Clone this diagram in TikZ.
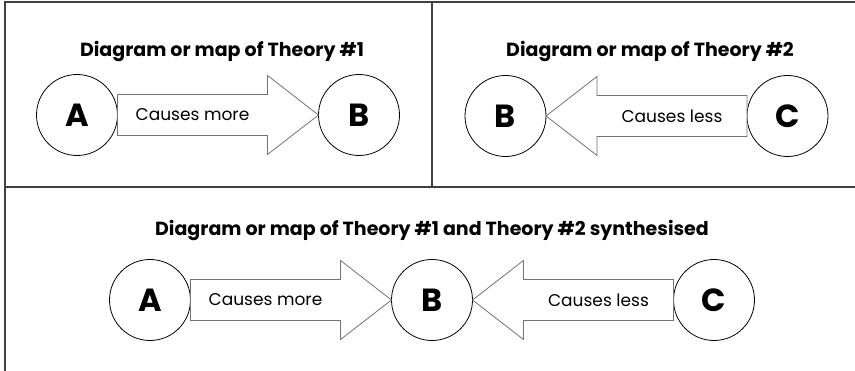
\documentclass[tikz,border=0pt]{standalone}
\usepackage{fontspec}
\setmainfont{Poppins}
\usetikzlibrary{calc,positioning}

\begin{document}
\begin{tikzpicture}[
  x=1pt, y=1pt,
  node distance=201pt,
  circ/.style={draw, circle, minimum size=81pt, inner sep=0pt, outer sep=0pt, line width=0.8pt, font=\fontsize{32}{38}\selectfont\bfseries},
  ttl/.style={anchor=base, font=\fontsize{19}{23}\selectfont\bfseries},
  lbl/.style={font=\fontsize{17}{21}\selectfont},
  bigarr/.style={draw=black!55, line width=0.8pt, fill=white,
    to path={let \p1=(\tikztostart), \p2=(\tikztotarget), \n1={sign(\x2-\x1)} in
      (\x1,\y1+20.5pt) -- (\x2-\n1*51pt,\y1+20.5pt) -- (\x2-\n1*51pt,\y1+39.5pt) -- (\x2,\y2)
      -- (\x2-\n1*51pt,\y1-39.5pt) -- (\x2-\n1*51pt,\y1-20.5pt) -- (\x1,\y1-20.5pt) -- cycle}},
  frame/.style={draw=black!75, line width=1.5pt}
]
  \useasboundingbox (0,0) rectangle (855,371);
  \draw[frame] (5,0) -- (5,369) -- (855,369);
  \draw[frame] (5,184) -- (855,184);
  \draw[frame] (432,184) -- (432,369);

  \node[ttl] (t1) at (222,314) {Diagram or map of Theory \#1};
  \node[ttl] (t2) at (650,314) {Diagram or map of Theory \#2};
  \node[ttl] (t3) at (432,135) {Diagram or map of Theory \#1 and Theory \#2 synthesised};

  \node[circ] (a1) at (77,256) {A};
  \node[circ, right=of a1] (b1) {B};
  \node[circ] (b2) at (505.5,255) {B};
  \node[circ, right=of b2] (c2) {C};
  \node[circ] (a3) at (150,71) {A};
  \node[circ, right=of a3] (b3) {B};
  \node[circ, right=of b3] (c3) {C};

  \draw[bigarr] (a1.east) to (b1.west);
  \draw[bigarr] (c2.west) to (b2.east);
  \draw[bigarr] (a3.east) to (b3.west);
  \draw[bigarr] (c3.west) to (b3.east);

  \node[lbl, xshift=-25.5pt] (l1) at ($(a1.east)!0.5!(b1.west)$) {Causes more};
  \node[lbl, xshift=25.5pt] (l2) at ($(b2.east)!0.5!(c2.west)$) {Causes less};
  \node[lbl, xshift=-25.5pt] (l3) at ($(a3.east)!0.5!(b3.west)$) {Causes more};
  \node[lbl, xshift=25.5pt] (l4) at ($(b3.east)!0.5!(c3.west)$) {Causes less};
\end{tikzpicture}
\end{document}
